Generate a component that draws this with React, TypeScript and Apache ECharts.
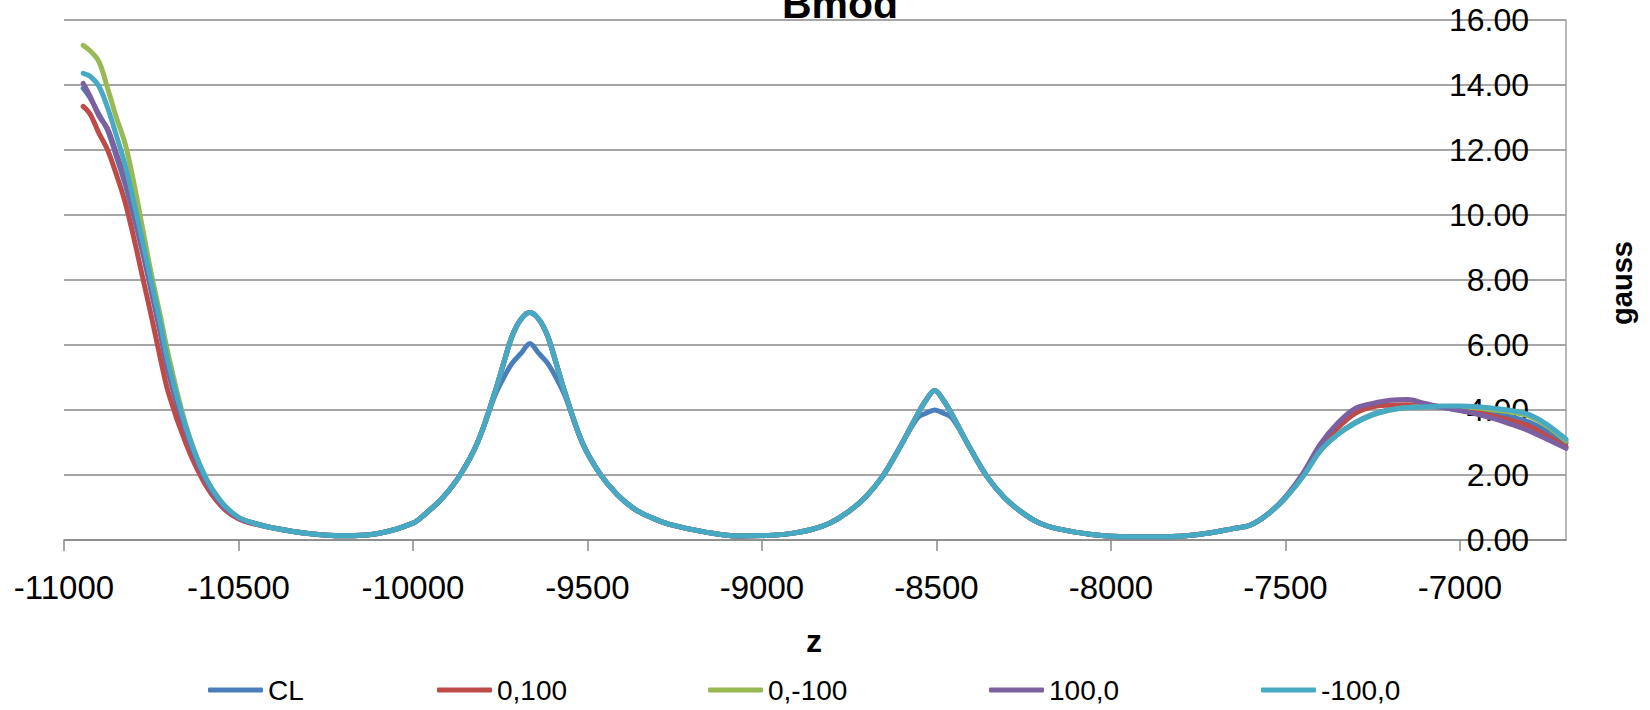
import React, { useEffect, useRef } from "react";
import * as echarts from "echarts";

const zValues = [
  -10945, -10925, -10900, -10875, -10850, -10825, -10800, -10775, -10750, -10725,
  -10700, -10650, -10600, -10550, -10500, -10450, -10400, -10300, -10200, -10100,
  -10000, -9965, -9915, -9865, -9815, -9765, -9740, -9715, -9690, -9665,
  -9640, -9615, -9590, -9565, -9515, -9465, -9415, -9365, -9315, -9265,
  -9165, -9065, -8965, -8905, -8855, -8805, -8755, -8705, -8655, -8605,
  -8555, -8530, -8505, -8480, -8455, -8405, -8355, -8305, -8255, -8205,
  -8155, -8055, -7950, -7850, -7750, -7650, -7600, -7550, -7500, -7450,
  -7400, -7350, -7300, -7250, -7200, -7150, -7100, -7050, -7000, -6950,
  -6900, -6850, -6800, -6750, -6696,
];

const seriesCL = [
  13.9, 13.6, 13.1, 12.6, 11.8, 10.95, 9.95, 8.85, 7.65, 6.4,
  5.1, 3.25, 1.9, 1.1, 0.67, 0.5, 0.37, 0.2, 0.13, 0.2,
  0.52, 0.8, 1.3, 2.0, 3.0, 4.45, 5.0, 5.45, 5.75, 6.05,
  5.75, 5.45, 5.0, 4.45, 3.0, 2.05, 1.4, 0.95, 0.68, 0.48,
  0.25, 0.12, 0.15, 0.22, 0.33, 0.52, 0.85, 1.3, 1.95, 2.85,
  3.75, 3.9, 4.0, 3.9, 3.75, 2.85, 1.95, 1.3, 0.85, 0.52,
  0.35, 0.17, 0.1, 0.1, 0.17, 0.35, 0.46, 0.8, 1.3, 1.95,
  2.75, 3.25, 3.62, 3.87, 4.02, 4.08, 4.1, 4.08, 4.03, 3.97,
  3.9, 3.78, 3.62, 3.35, 2.98,
];

const series0p100 = [
  13.34, 13.1, 12.52, 12.0, 11.25, 10.4, 9.3, 8.1, 6.9, 5.65,
  4.5, 2.95, 1.8, 1.05, 0.65, 0.48, 0.37, 0.2, 0.13, 0.2,
  0.52, 0.8, 1.3, 2.0, 3.0, 4.55, 5.45, 6.3, 6.8, 7.0,
  6.8, 6.3, 5.45, 4.55, 3.0, 2.05, 1.4, 0.95, 0.68, 0.48,
  0.25, 0.12, 0.15, 0.22, 0.33, 0.52, 0.85, 1.3, 1.95, 2.85,
  3.85, 4.3, 4.6, 4.3, 3.85, 2.85, 1.95, 1.3, 0.85, 0.52,
  0.35, 0.17, 0.1, 0.1, 0.17, 0.35, 0.46, 0.8, 1.3, 2.0,
  2.85, 3.45, 3.9, 4.1, 4.15, 4.16, 4.14, 4.1, 4.02, 3.93,
  3.8, 3.67, 3.5, 3.2, 2.87,
];

const series0m100 = [
  15.22, 15.05, 14.72, 13.9, 13.0, 12.2, 11.0, 9.6, 8.2, 6.95,
  5.65, 3.5, 2.05, 1.18, 0.7, 0.5, 0.37, 0.2, 0.13, 0.2,
  0.52, 0.8, 1.3, 2.0, 3.0, 4.55, 5.45, 6.3, 6.8, 7.0,
  6.8, 6.3, 5.45, 4.55, 3.0, 2.05, 1.4, 0.95, 0.68, 0.48,
  0.25, 0.12, 0.15, 0.22, 0.33, 0.52, 0.85, 1.3, 1.95, 2.85,
  3.85, 4.3, 4.6, 4.3, 3.85, 2.85, 1.95, 1.3, 0.85, 0.52,
  0.35, 0.17, 0.1, 0.1, 0.17, 0.35, 0.46, 0.8, 1.3, 1.95,
  2.75, 3.25, 3.6, 3.85, 4.0, 4.08, 4.1, 4.1, 4.1, 4.06,
  4.0, 3.93, 3.8, 3.5, 3.05,
];

const series100p0 = [
  14.05, 13.65, 13.05, 12.65, 11.9, 11.1, 10.1, 8.95, 7.75, 6.5,
  5.2, 3.3, 1.95, 1.12, 0.68, 0.5, 0.37, 0.2, 0.13, 0.2,
  0.52, 0.8, 1.3, 2.0, 3.0, 4.55, 5.45, 6.3, 6.8, 7.0,
  6.8, 6.3, 5.45, 4.55, 3.0, 2.05, 1.4, 0.95, 0.68, 0.48,
  0.25, 0.12, 0.15, 0.22, 0.33, 0.52, 0.85, 1.3, 1.95, 2.85,
  3.85, 4.3, 4.6, 4.3, 3.85, 2.85, 1.95, 1.3, 0.85, 0.52,
  0.35, 0.17, 0.1, 0.1, 0.17, 0.35, 0.46, 0.8, 1.33, 2.05,
  2.95, 3.6, 4.05, 4.2, 4.3, 4.32, 4.2, 4.08, 3.98, 3.87,
  3.73, 3.55, 3.35, 3.1, 2.82,
];

const seriesM100p0 = [
  14.36, 14.27, 13.96, 13.3, 12.45, 11.55, 10.4, 9.2, 7.95, 6.73,
  5.4, 3.45, 2.05, 1.18, 0.7, 0.5, 0.37, 0.2, 0.13, 0.2,
  0.52, 0.8, 1.3, 2.0, 3.0, 4.55, 5.45, 6.3, 6.8, 7.0,
  6.8, 6.3, 5.45, 4.55, 3.0, 2.05, 1.4, 0.95, 0.68, 0.48,
  0.25, 0.12, 0.15, 0.22, 0.33, 0.52, 0.85, 1.3, 1.95, 2.85,
  3.85, 4.3, 4.6, 4.3, 3.85, 2.85, 1.95, 1.3, 0.85, 0.52,
  0.35, 0.17, 0.1, 0.1, 0.17, 0.35, 0.46, 0.8, 1.3, 1.95,
  2.75, 3.25, 3.6, 3.85, 4.0, 4.08, 4.1, 4.12, 4.12, 4.1,
  4.05, 3.98, 3.85, 3.55, 3.1,
];

const seriesNames = ["CL", "0,100", "0,-100", "100,0", "-100,0"];
const seriesData = [seriesCL, series0p100, series0m100, series100p0, seriesM100p0];
const seriesColors = ["#4A7EBB", "#BE4B48", "#98B954", "#7D60A0", "#46AAC5"];

const xTicks = [-11000, -10500, -10000, -9500, -9000, -8500, -8000, -7500, -7000];
const xMin = -11000;
const xMax = -6696;
const yMin = 0;
const yMax = 16;
const yStep = 2;

const chartTitle = "Bmod";
const xName = "z";
const yName = "gauss";

const legendLefts = [208, 437, 708, 989, 1261];

const FONT = "'Liberation Sans', Arial, sans-serif";

export default function App() {
  const ref = useRef<HTMLDivElement>(null);

  useEffect(() => {
    if (!ref.current) return;
    const chart = echarts.init(ref.current, null, { renderer: "svg" });
    const gray = "#888888";
    chart.setOption({
      animation: false,
      backgroundColor: "#ffffff",
      textStyle: { fontFamily: FONT },
      grid: { left: 64, right: 84, top: 20, bottom: 170, containLabel: false },
      xAxis: {
        type: "value",
        min: xMin,
        max: xMax,
        position: "bottom",
        axisLine: { show: true, onZero: false, lineStyle: { color: gray, width: 1.5 } },
        axisTick: {
          show: true,
          inside: false,
          length: 11,
          customValues: xTicks,
          lineStyle: { color: gray, width: 1.5 },
        },
        axisLabel: {
          customValues: xTicks,
          margin: 31,
          fontSize: 33,
          color: "#000",
          fontFamily: FONT,
          formatter: (v: number) => String(v),
        },
        splitLine: { show: false },
      },
      yAxis: {
        type: "value",
        position: "right",
        min: yMin,
        max: yMax,
        interval: yStep,
        axisLine: { show: true, lineStyle: { color: "#a0a0a0", width: 1.5 } },
        axisTick: { show: false },
        axisLabel: {
          inside: true,
          margin: 37,
          fontSize: 32,
          color: "#000",
          fontFamily: FONT,
          formatter: (v: number) => v.toFixed(2),
        },
        splitLine: { show: true, lineStyle: { color: gray, width: 1.5 } },
      },
      legend: seriesNames.map((n, i) => ({
        data: [n],
        left: legendLefts[i],
        top: 676,
        padding: 0,
        itemGap: 0,
        icon: "roundRect",
        itemWidth: 55,
        itemHeight: 5,
        textStyle: { fontSize: 28, color: "#000", fontFamily: FONT },
      })),
      series: seriesNames.map((n, i) => ({
        name: n,
        type: "line",
        data: zValues.map((z, k) => [z, seriesData[i][k]]),
        showSymbol: false,
        symbol: "none",
        smooth: 0.35,
        color: seriesColors[i],
        lineStyle: { width: 5, color: seriesColors[i], cap: "round", join: "round" },
        z: 2 + i,
      })),
      graphic: [
        {
          type: "text",
          x: 840,
          y: 24,
          style: {
            text: chartTitle,
            fontSize: 41,
            fontWeight: "bold",
            fontFamily: FONT,
            fill: "#000",
            textAlign: "center",
            textVerticalAlign: "bottom",
          },
        },
        {
          type: "text",
          x: 814,
          y: 641,
          style: {
            text: xName,
            fontSize: 32,
            fontWeight: "bold",
            fontFamily: FONT,
            fill: "#000",
            textAlign: "center",
            textVerticalAlign: "middle",
          },
        },
        {
          type: "text",
          x: 1622,
          y: 283,
          rotation: Math.PI / 2,
          style: {
            text: yName,
            fontSize: 29,
            fontWeight: "bold",
            fontFamily: FONT,
            fill: "#000",
            textAlign: "center",
            textVerticalAlign: "middle",
          },
        },
      ],
    });
    return () => chart.dispose();
  }, []);

  return (
    <div
      ref={ref}
      style={{ position: "fixed", left: 0, top: 0, width: 1650, height: 710, background: "#fff" }}
    />
  );
}
